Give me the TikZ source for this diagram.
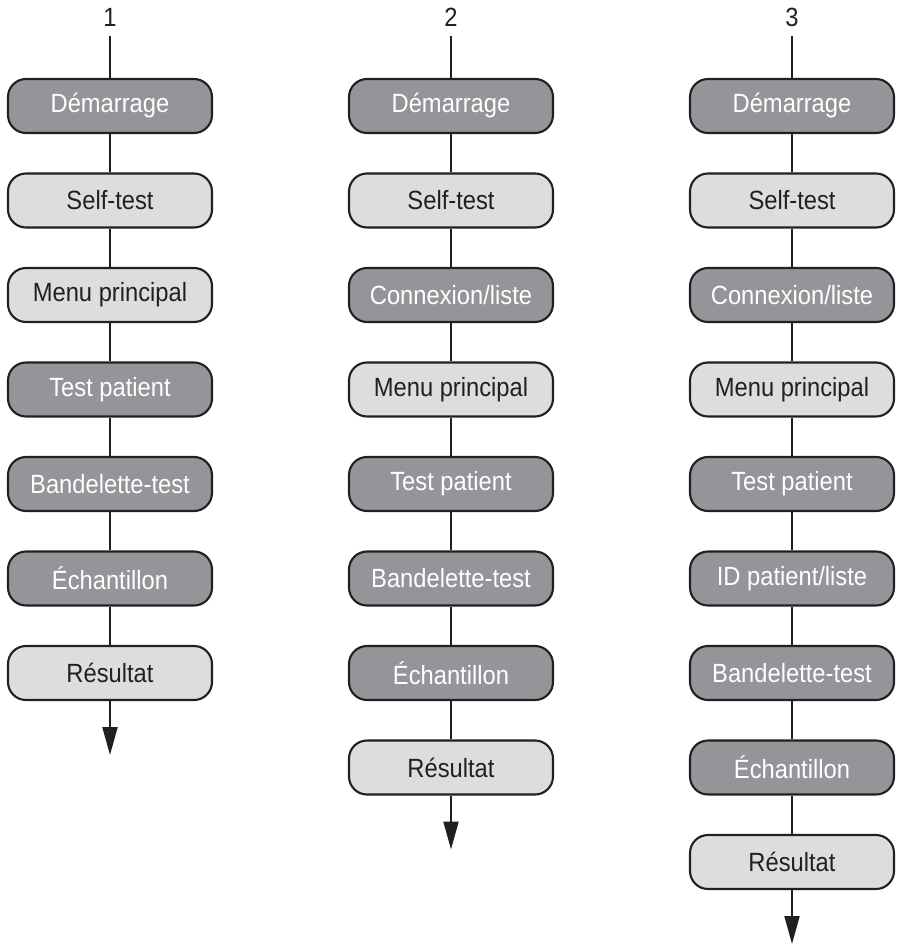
\documentclass[tikz,border=0pt]{standalone}
\usepackage{fontspec}
\setmainfont[FakeStretch=0.9]{Liberation Sans}
\usepackage{xcolor}
\usepackage{tikz}
\usetikzlibrary{positioning,arrows.meta}
\definecolor{BoxDark}{HTML}{939598}
\definecolor{BoxLight}{HTML}{DCDDDE}
\definecolor{InkDark}{HTML}{231F20}

\begin{document}
\begin{tikzpicture}[every node/.style={font=\fontsize{15}{17}\selectfont},
                    box/.style={draw=InkDark, line width=1.2pt, rounded corners=0.36cm,
                                minimum width=4.08cm, minimum height=1.08cm, inner sep=0pt},
                    dark/.style={box, fill=BoxDark, text=white},
                    light/.style={box, fill=BoxLight, text=InkDark},
                    ln/.style={InkDark, line width=1.2pt},
                    ar/.style={ln, -{Triangle[length=5.6mm,width=3mm]}}]
  \useasboundingbox (0,0) rectangle (18,-18.88);
  % column 1
  \node[text=InkDark] (n1) at (2.2,-0.34) {1};
  \coordinate (t1) at (2.2,-0.72);
  \node[dark]  (a1) at (2.2,-2.12)  {Démarrage};
  \node[light] (a2) at (2.2,-4.01)  {Self-test};
  \node[light] (a3) at (2.2,-5.90)  {Menu principal};
  \node[dark]  (a4) at (2.2,-7.79)  {Test patient};
  \node[dark]  (a5) at (2.2,-9.68)  {Bandelette-test};
  \node[dark]  (a6) at (2.2,-11.57) {Échantillon};
  \node[light] (a7) at (2.2,-13.46) {Résultat};
  \coordinate (e1) at (2.2,-15.10);
  \draw[ln](t1)--(a1); \draw[ln](a1)--(a2); \draw[ln](a2)--(a3);
  \draw[ln](a3)--(a4); \draw[ln](a4)--(a5); \draw[ln](a5)--(a6);
  \draw[ln](a6)--(a7); \draw[ar](a7)--(e1);
  % column 2
  \node[text=InkDark] (n2) at (9.02,-0.34) {2};
  \coordinate (t2) at (9.02,-0.72);
  \node[dark]  (b1) at (9.02,-2.12)  {Démarrage};
  \node[light] (b2) at (9.02,-4.01)  {Self-test};
  \node[dark]  (b3) at (9.02,-5.90)  {Connexion/liste};
  \node[light] (b4) at (9.02,-7.79)  {Menu principal};
  \node[dark]  (b5) at (9.02,-9.68)  {Test patient};
  \node[dark]  (b6) at (9.02,-11.57) {Bandelette-test};
  \node[dark]  (b7) at (9.02,-13.46) {Échantillon};
  \node[light] (b8) at (9.02,-15.35) {Résultat};
  \coordinate (e2) at (9.02,-16.99);
  \draw[ln](t2)--(b1); \draw[ln](b1)--(b2); \draw[ln](b2)--(b3);
  \draw[ln](b3)--(b4); \draw[ln](b4)--(b5); \draw[ln](b5)--(b6);
  \draw[ln](b6)--(b7); \draw[ln](b7)--(b8); \draw[ar](b8)--(e2);
  % column 3
  \node[text=InkDark] (n3) at (15.84,-0.34) {3};
  \coordinate (t3) at (15.84,-0.72);
  \node[dark]  (c1) at (15.84,-2.12)  {Démarrage};
  \node[light] (c2) at (15.84,-4.01)  {Self-test};
  \node[dark]  (c3) at (15.84,-5.90)  {Connexion/liste};
  \node[light] (c4) at (15.84,-7.79)  {Menu principal};
  \node[dark]  (c5) at (15.84,-9.68)  {Test patient};
  \node[dark]  (c6) at (15.84,-11.57) {ID patient/liste};
  \node[dark]  (c7) at (15.84,-13.46) {Bandelette-test};
  \node[dark]  (c8) at (15.84,-15.35) {Échantillon};
  \node[light] (c9) at (15.84,-17.24) {Résultat};
  \coordinate (e3) at (15.84,-18.88);
  \draw[ln](t3)--(c1); \draw[ln](c1)--(c2); \draw[ln](c2)--(c3);
  \draw[ln](c3)--(c4); \draw[ln](c4)--(c5); \draw[ln](c5)--(c6);
  \draw[ln](c6)--(c7); \draw[ln](c7)--(c8); \draw[ln](c8)--(c9);
  \draw[ar](c9)--(e3);
\end{tikzpicture}
\end{document}
